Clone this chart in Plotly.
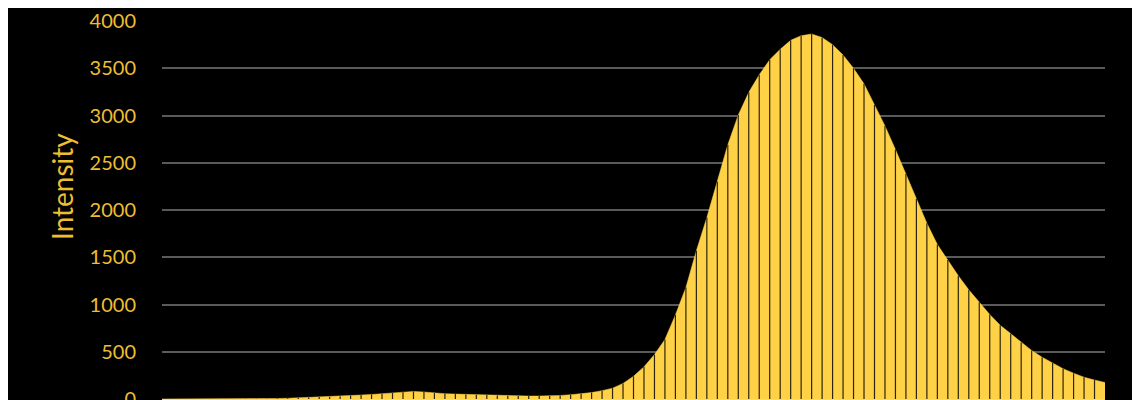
import plotly.graph_objects as go

# Intensity values, one per channel (91 points)
intensity = [
    0, 0, 0, 0, 0, 0, 1, 1, 2, 2,
    3, 5, 8, 12, 16, 20, 24, 30, 36, 42,
    48, 55, 62, 72, 80, 74, 62, 56, 52, 48,
    45, 42, 38, 35, 33, 31, 31, 33, 38, 45,
    55, 68, 88, 115, 165, 240, 340, 470, 630, 890,
    1180, 1570, 1920, 2300, 2690, 3005, 3245, 3430, 3590, 3700,
    3795, 3845, 3862, 3825, 3750, 3640, 3500, 3335, 3115, 2890,
    2640, 2380, 2120, 1860, 1635, 1470, 1305, 1155, 1025, 895,
    780, 690, 598, 514, 442, 380, 321, 273, 231, 200,
    175,
]
channels = list(range(len(intensity)))
y_ticks = [0, 500, 1000, 1500, 2000, 2500, 3000, 3500, 4000]
y_title = "Intensity"

YELLOW = "#FFD147"
LABEL = "#EDBE32"

# drop lines at each interior channel
dx, dy = [], []
for c, v in zip(channels[1:-1], intensity[1:-1]):
    dx += [c, c, None]
    dy += [0, v, None]

fig = go.Figure()
fig.add_trace(go.Scatter(
    x=channels, y=intensity, mode="lines", fill="tozeroy",
    fillcolor=YELLOW, line=dict(color=YELLOW, width=0.5),
    hoverinfo="skip", showlegend=False,
))
fig.add_trace(go.Scatter(
    x=dx, y=dy, mode="lines", line=dict(color="#2e2508", width=1.2),
    hoverinfo="skip", showlegend=False,
))

PLOT_W = 943.0
PLOT_H = 378.0

# page body has an 8px margin, so the figure is 8px smaller and shifted
fig.update_layout(
    width=1132, height=392,
    paper_bgcolor="black", plot_bgcolor="black",
    margin=dict(l=154, r=35, t=13, b=1, autoexpand=False),
    font=dict(family="Lato, 'Open Sans', sans-serif", color=LABEL, size=20),
    xaxis=dict(
        range=[0, len(intensity) - 1], showticklabels=False, showgrid=False,
        zeroline=False, showline=True, linecolor="#d9d9d9", linewidth=3,
        ticks="", automargin=False,
    ),
    yaxis=dict(
        range=[0, 4000], tickvals=y_ticks, ticktext=[str(t) for t in y_ticks],
        showgrid=True, gridcolor="#5a5a5a", gridwidth=2, zeroline=False,
        showline=False, ticks="", ticklabelstandoff=25,
        ticklabeloverflow="allow", automargin=False,
        tickfont=dict(size=20, color=LABEL),
    ),
    annotations=[dict(
        text=y_title, textangle=-90, showarrow=False,
        xref="paper", yref="paper",
        x=(62 - 162) / PLOT_W, y=(399 - 187) / PLOT_H,
        xanchor="center", yanchor="middle",
        font=dict(size=28, color=LABEL),
    )],
)

fig.write_html("out.html")
